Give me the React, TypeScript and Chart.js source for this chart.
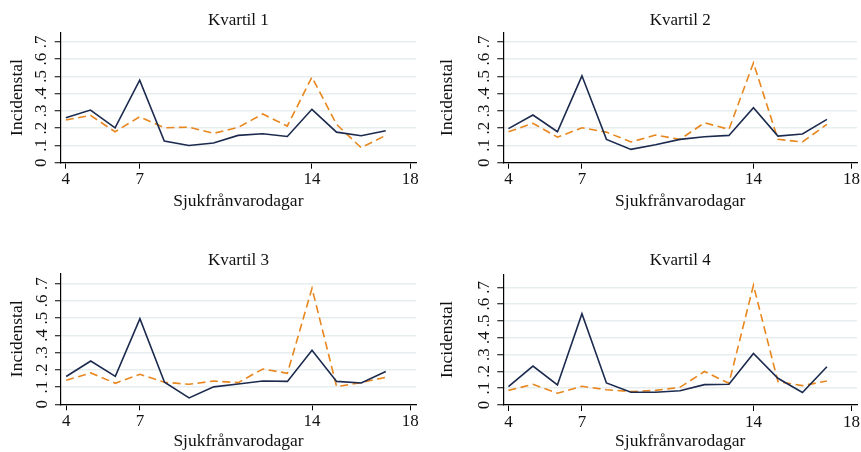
import React, { useEffect, useRef } from 'react';
import { Chart, registerables } from 'chart.js';

Chart.register(...registerables);

// ---------- data ----------
const DAYS = [4, 5, 6, 7, 8, 9, 10, 11, 12, 13, 14, 15, 16, 17];

const Q1_SOLID = [0.26, 0.305, 0.202, 0.478, 0.125, 0.1, 0.114, 0.158, 0.168, 0.152, 0.309, 0.177, 0.156, 0.185];
const Q1_DASHED = [0.247, 0.274, 0.179, 0.266, 0.202, 0.206, 0.17, 0.204, 0.282, 0.212, 0.496, 0.222, 0.087, 0.158];

const Q2_SOLID = [0.197, 0.276, 0.179, 0.503, 0.135, 0.077, 0.104, 0.135, 0.15, 0.158, 0.318, 0.154, 0.166, 0.251];
const Q2_DASHED = [0.179, 0.228, 0.148, 0.202, 0.177, 0.12, 0.16, 0.135, 0.231, 0.193, 0.578, 0.135, 0.12, 0.222];

const Q3_SOLID = [0.161, 0.251, 0.162, 0.497, 0.128, 0.037, 0.101, 0.118, 0.135, 0.133, 0.313, 0.133, 0.124, 0.19];
const Q3_DASHED = [0.139, 0.182, 0.122, 0.174, 0.128, 0.116, 0.135, 0.126, 0.205, 0.18, 0.673, 0.103, 0.126, 0.157];

const Q4_SOLID = [0.109, 0.231, 0.119, 0.543, 0.131, 0.076, 0.076, 0.085, 0.121, 0.123, 0.306, 0.159, 0.074, 0.227];
const Q4_DASHED = [0.087, 0.123, 0.07, 0.111, 0.091, 0.08, 0.087, 0.105, 0.199, 0.129, 0.712, 0.139, 0.115, 0.143];

const PANEL_TITLES = ['Kvartil 1', 'Kvartil 2', 'Kvartil 3', 'Kvartil 4'];
const X_TICKS = [4, 7, 14, 18];
const Y_TICKS = [0, 0.1, 0.2, 0.3, 0.4, 0.5, 0.6, 0.7];
const Y_TICK_LABELS = ['0', '.1', '.2', '.3', '.4', '.5', '.6', '.7'];
const Y_MAX = [0.755, 0.755, 0.76, 0.777];
const X_MIN = 3.79;
const X_MAX = 18.23;
const Y_AXIS_TITLE = 'Incidenstal';
const X_AXIS_TITLE = 'Sjukfrånvarodagar';

const SOLID = [Q1_SOLID, Q2_SOLID, Q3_SOLID, Q4_SOLID];
const DASHED = [Q1_DASHED, Q2_DASHED, Q3_DASHED, Q4_DASHED];

// ---------- layout ----------
type Geom = {
  left: number; top: number; w: number; h: number;
  cl: number; cr: number; ct: number; cb: number;
  titleTop: number; xTitlePadBottom: number;
};

const GEOMS: Geom[] = [
  { left: 0, top: 0, w: 430, h: 226, cl: 60.7, cr: 416, ct: 32.3, cb: 162.7, titleTop: 10.5, xTitlePadBottom: 13.8 },
  { left: 430, top: 0, w: 431, h: 226, cl: 73.3, cr: 428.5, ct: 32.3, cb: 162.7, titleTop: 10.5, xTitlePadBottom: 13.8 },
  { left: 0, top: 241, w: 430, h: 211, cl: 61, cr: 416, ct: 32.3, cb: 163.3, titleTop: 9.5, xTitlePadBottom: 0 },
  { left: 430, top: 241, w: 431, h: 211, cl: 73.3, cr: 428.5, ct: 33.3, cb: 164, titleTop: 9.5, xTitlePadBottom: 0 },
];

const FONT = "'Liberation Serif', 'Times New Roman', serif";
const TEXT = '#111';
const NAVY = '#1b2a4e';
const ORANGE = '#e8871e';
const GRID = '#e7eef0';

function Panel({ idx }: { idx: number }) {
  const ref = useRef<HTMLCanvasElement | null>(null);
  const g = GEOMS[idx];

  useEffect(() => {
    if (!ref.current) return;
    const titleSize = 17;
    const titleLH = titleSize * 1.2;
    const chart = new Chart(ref.current, {
      type: 'line',
      data: {
        datasets: [
          {
            data: DAYS.map((d, i) => ({ x: d, y: SOLID[idx][i] })),
            borderColor: NAVY,
            borderWidth: 1.6,
            pointRadius: 0,
            tension: 0,
            fill: false,
          },
          {
            data: DAYS.map((d, i) => ({ x: d, y: DASHED[idx][i] })),
            borderColor: ORANGE,
            borderWidth: 1.6,
            borderDash: [8, 4.5],
            pointRadius: 0,
            tension: 0,
            fill: false,
          },
        ],
      },
      options: {
        animation: false,
        responsive: false,
        devicePixelRatio: 1,
        events: [],
        layout: { padding: { left: 0, top: 0, bottom: 0, right: g.w - g.cr } },
        plugins: {
          legend: { display: false },
          tooltip: { enabled: false },
          title: {
            display: true,
            text: PANEL_TITLES[idx],
            fullSize: false,
            color: TEXT,
            font: { family: FONT, size: titleSize, weight: 'normal' },
            padding: { top: g.titleTop, bottom: g.ct - g.titleTop - titleLH },
          },
        },
        scales: {
          x: {
            type: 'linear',
            min: X_MIN,
            max: X_MAX,
            afterBuildTicks: (axis: any) => {
              axis.ticks = X_TICKS.map((v) => ({ value: v }));
            },
            afterFit: (axis: any) => {
              axis.height = g.h - g.cb;
            },
            grid: {
              display: true,
              drawOnChartArea: false,
              drawTicks: true,
              tickLength: 6,
              tickColor: '#000',
              tickWidth: 1,
            },
            border: { display: true, color: '#000', width: 1.2 },
            ticks: {
              autoSkip: false,
              maxRotation: 0,
              padding: 1,
              color: TEXT,
              font: { family: FONT, size: 17 },
              callback: (v: any) => String(v),
            },
            title: {
              display: true,
              text: X_AXIS_TITLE,
              color: TEXT,
              font: { family: FONT, size: 17.5 },
              padding: { top: 0, bottom: g.xTitlePadBottom },
            },
          },
          y: {
            type: 'linear',
            min: 0,
            max: Y_MAX[idx],
            afterBuildTicks: (axis: any) => {
              axis.ticks = Y_TICKS.map((v) => ({ value: v }));
            },
            afterFit: (axis: any) => {
              axis.width = g.cl;
            },
            grid: {
              display: true,
              drawOnChartArea: true,
              drawTicks: true,
              tickLength: 6,
              color: GRID,
              lineWidth: 1.5,
              tickColor: '#000',
              tickWidth: 1,
            },
            border: { display: true, color: '#000', width: 1.2 },
            ticks: {
              autoSkip: false,
              minRotation: 90,
              maxRotation: 90,
              crossAlign: 'center',
              padding: 6.5,
              color: TEXT,
              font: { family: FONT, size: 17 },
              callback: (v: any) => {
                const i = Y_TICKS.findIndex((t) => Math.abs(t - Number(v)) < 1e-6);
                return i >= 0 ? Y_TICK_LABELS[i] : '';
              },
            },
            title: {
              display: true,
              text: Y_AXIS_TITLE,
              color: TEXT,
              font: { family: FONT, size: 17.5 },
              padding: { top: 6.5, bottom: 0 },
            },
          },
        },
      } as any,
    });
    return () => chart.destroy();
  }, [idx]);

  return (
    <canvas
      ref={ref}
      width={g.w}
      height={g.h}
      style={{ position: 'absolute', left: g.left, top: g.top, width: g.w, height: g.h }}
    />
  );
}

export default function App() {
  return (
    <div
      style={{
        position: 'absolute',
        left: 0,
        top: 0,
        width: 861,
        height: 452,
        overflow: 'hidden',
        background: '#fff',
      }}
    >
      {[0, 1, 2, 3].map((i) => (
        <Panel key={i} idx={i} />
      ))}
    </div>
  );
}
